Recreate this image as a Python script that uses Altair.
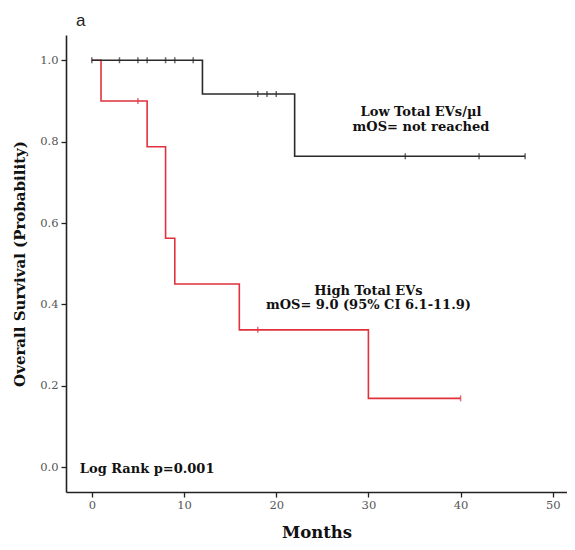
import altair as alt
import pandas as pd

# Kaplan-Meier step points (time in months, survival probability)
low_t = [0, 12, 22, 47]
low_s = [1.0, 0.917, 0.764, 0.764]
high_t = [0, 1, 6, 8, 9, 16, 30, 40]
high_s = [1.0, 0.9, 0.7875, 0.5625, 0.45, 0.3375, 0.169, 0.169]

# censored observations
low_cens_t = [0, 3, 5, 6, 8, 9, 11, 18, 19, 20, 34, 42, 47]
low_cens_s = [1.0, 1.0, 1.0, 1.0, 1.0, 1.0, 1.0, 0.917, 0.917, 0.917, 0.764, 0.764, 0.764]
high_cens_t = [5, 18, 40]
high_cens_s = [0.9, 0.3375, 0.169]

x_ticks = [0, 10, 20, 30, 40, 50]
y_ticks = [0.0, 0.2, 0.4, 0.6, 0.8, 1.0]

ann_text = ["Low Total EVs/\u00b5l", "mOS= not reached", "High Total EVs",
            "mOS= 9.0 (95% CI 6.1-11.9)"]
ann_x = [35.7, 35.7, 30.0, 30.0]
ann_y = [0.863, 0.826, 0.423, 0.388]

SERIF = "DejaVu Serif"
RED = "#e0323c"
BLACK = "#2a2a2a"

low = pd.DataFrame({"t": low_t, "s": low_s})
high = pd.DataFrame({"t": high_t, "s": high_s})
lowc = pd.DataFrame({"t": low_cens_t, "s": low_cens_s})
highc = pd.DataFrame({"t": high_cens_t, "s": high_cens_s})
ann = pd.DataFrame({"label": ann_text, "x": ann_x, "y": ann_y})
lr = pd.DataFrame({"label": ["Log Rank p=0.001"], "x": [-1.3], "y": [-0.015]})

xs = alt.Scale(domain=[-2.8, 51.54], nice=False, zero=False)
ys = alt.Scale(domain=[-0.061, 1.062], nice=False, zero=False)

X = alt.X("t:Q", scale=xs, title="Months",
          axis=alt.Axis(values=x_ticks, format="d", grid=False))
Y = alt.Y("s:Q", scale=ys, title="Overall Survival (Probability)",
          axis=alt.Axis(values=y_ticks, format=".1f", grid=False))

high_line = alt.Chart(high).mark_line(interpolate="step-after", color=RED, strokeWidth=1.6).encode(x=X, y=Y)
low_line = alt.Chart(low).mark_line(interpolate="step-after", color=BLACK, strokeWidth=1.6).encode(x=X, y=Y)
high_c = alt.Chart(highc).mark_tick(orient="vertical", size=6, thickness=1.5, color=RED).encode(x=X, y=Y)
low_c = alt.Chart(lowc).mark_tick(orient="vertical", size=6, thickness=1.5, color=BLACK).encode(x=X, y=Y)

ann_layer = alt.Chart(ann).mark_text(font=SERIF, fontSize=13, fontWeight="bold", color="#111",
                                     align="center", baseline="alphabetic").encode(
    x=alt.X("x:Q", scale=xs), y=alt.Y("y:Q", scale=ys), text="label:N")
lr_layer = alt.Chart(lr).mark_text(font=SERIF, fontSize=13, fontWeight="bold", color="#111",
                                   align="left", baseline="alphabetic").encode(
    x=alt.X("x:Q", scale=xs), y=alt.Y("y:Q", scale=ys), text="label:N")

chart = alt.layer(high_line, low_line, high_c, low_c, ann_layer, lr_layer).properties(
    width=501, height=457,
    autosize=alt.AutoSizeParams(type="none"),
    padding={"left": 58, "top": 27, "right": 0, "bottom": 49},
    title=alt.TitleParams("a", anchor="start", frame="group", font="Liberation Sans", fontSize=17,
                          fontWeight="normal", color="#222", dx=10, offset=5),
).configure_view(stroke=None).configure_axis(
    domainColor="#222", domainWidth=1.6, tickColor="#222", tickWidth=1.3, tickSize=5,
    labelFont=SERIF, labelFontSize=11.5, labelColor="#555",
    titleFont=SERIF, titleFontSize=15, titleFontWeight="bold", titleColor="#111",
).configure_axisY(titlePadding=12, labelPadding=3).configure_axisX(titlePadding=14, titleFontSize=16.5)

chart.save("out.html", embed_options={"renderer": "svg", "actions": False})
